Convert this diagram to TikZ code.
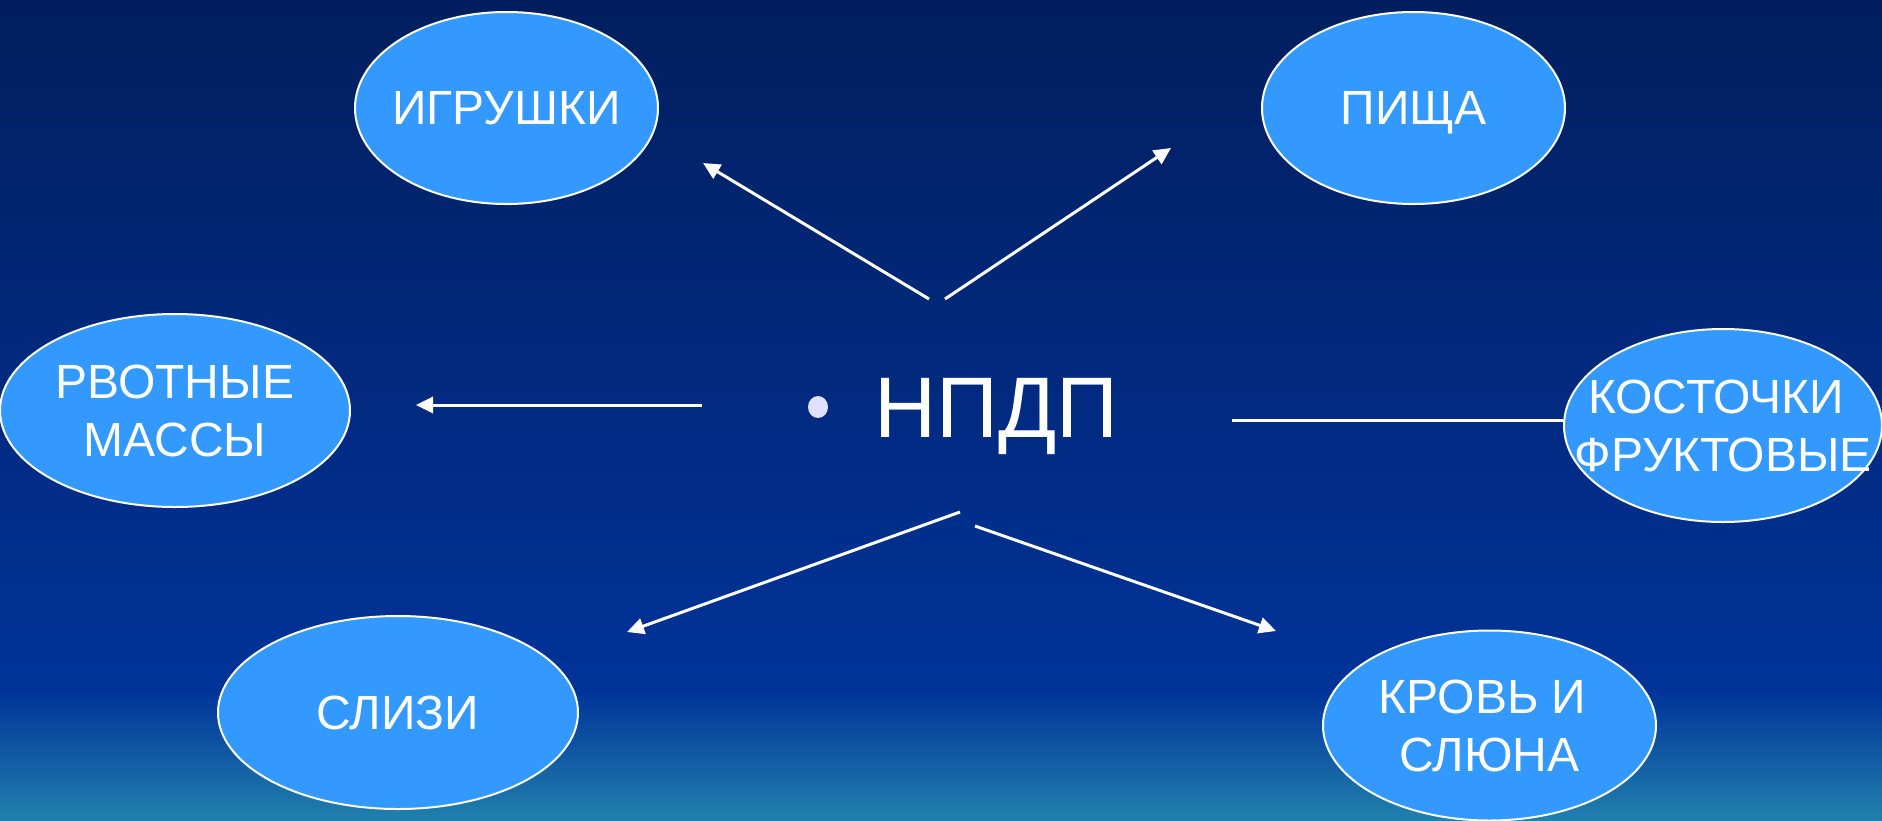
\documentclass[tikz,border=0pt]{standalone}
\usepackage{fontspec}
\setmainfont{Liberation Sans}
\usetikzlibrary{shapes.geometric,arrows.meta}
\definecolor{bgtop}{HTML}{021E5E}
\definecolor{bgmid}{HTML}{003399}
\definecolor{bgbot}{HTML}{2180AD}
\definecolor{ovalfill}{HTML}{3399FF}
\definecolor{bulletcol}{HTML}{E0E0FF}
\begin{document}
\begin{tikzpicture}[x=1pt,y=-1pt,
  oval/.style={ellipse,draw=white,line width=2pt,fill=ovalfill,inner sep=0pt},
  lab/.style={text=white,inner sep=0pt,align=center,font=\fontsize{48}{58}\selectfont},
  conn/.style={draw=white,line width=3pt},
  arr/.style={conn,-{Triangle[length=17pt,width=16pt]}}]
\useasboundingbox (0,0) rectangle (1882,820);
\shade[top color=bgtop,bottom color=bgmid] (0,0) rectangle (1882,691);
\shade[top color=bgmid,bottom color=bgbot] (0,690) rectangle (1882,820);

% ovals
\node[oval,minimum width=303pt,minimum height=192pt,
  label={[lab]center:ИГРУШКИ}] (toys) at (506.5,108) {};
\node[oval,minimum width=303pt,minimum height=192pt,
  label={[lab,text depth=0pt]center:ПИЩА}] (food) at (1413.5,108) {};
\node[oval,minimum width=350pt,minimum height=193pt,
  label={[lab]center:{РВОТНЫЕ\\МАССЫ}}] (vomit) at (175,410.5) {};
\node[oval,minimum width=318pt,minimum height=193pt,
  label={[lab]center:{КОСТОЧКИ\kern14pt\\ФРУКТОВЫЕ}}] (stones) at (1723,425.5) {};
\node[oval,minimum width=360pt,minimum height=193pt,
  label={[lab]center:СЛИЗИ}] (mucus) at (398,712.5) {};
\node[oval,minimum width=333pt,minimum height=190pt,
  label={[lab]center:{КРОВЬ И\kern14pt\\СЛЮНА}}] (blood) at (1489.5,725.5) {};

% centre
\node[ellipse,fill=bulletcol,minimum width=20pt,minimum height=22pt,inner sep=0pt] (dot) at (818,407) {};
\node[text=white,font=\fontsize{86}{100}\selectfont,anchor=base,inner sep=0pt] (npdp) at (996.5,437) {НПДП};

% connector end points
\coordinate (ulS) at (929,299);  \coordinate (ulT) at (703,163);
\coordinate (urS) at (945,299);  \coordinate (urT) at (1171,148);
\coordinate (lS)  at (702,405);  \coordinate (lT)  at (416,405);
\coordinate (rS)  at (1232,420);
\coordinate (dlS) at (960,512);  \coordinate (dlT) at (627,632);
\coordinate (drS) at (975,526);  \coordinate (drT) at (1276,631);

\draw[arr] (ulS) -- (ulT);
\draw[arr] (urS) -- (urT);
\draw[arr] (lS) -- (lT);
\draw[conn] (rS) -- (rS -| stones.west);
\draw[arr] (dlS) -- (dlT);
\draw[arr] (drS) -- (drT);
\end{tikzpicture}
\end{document}
